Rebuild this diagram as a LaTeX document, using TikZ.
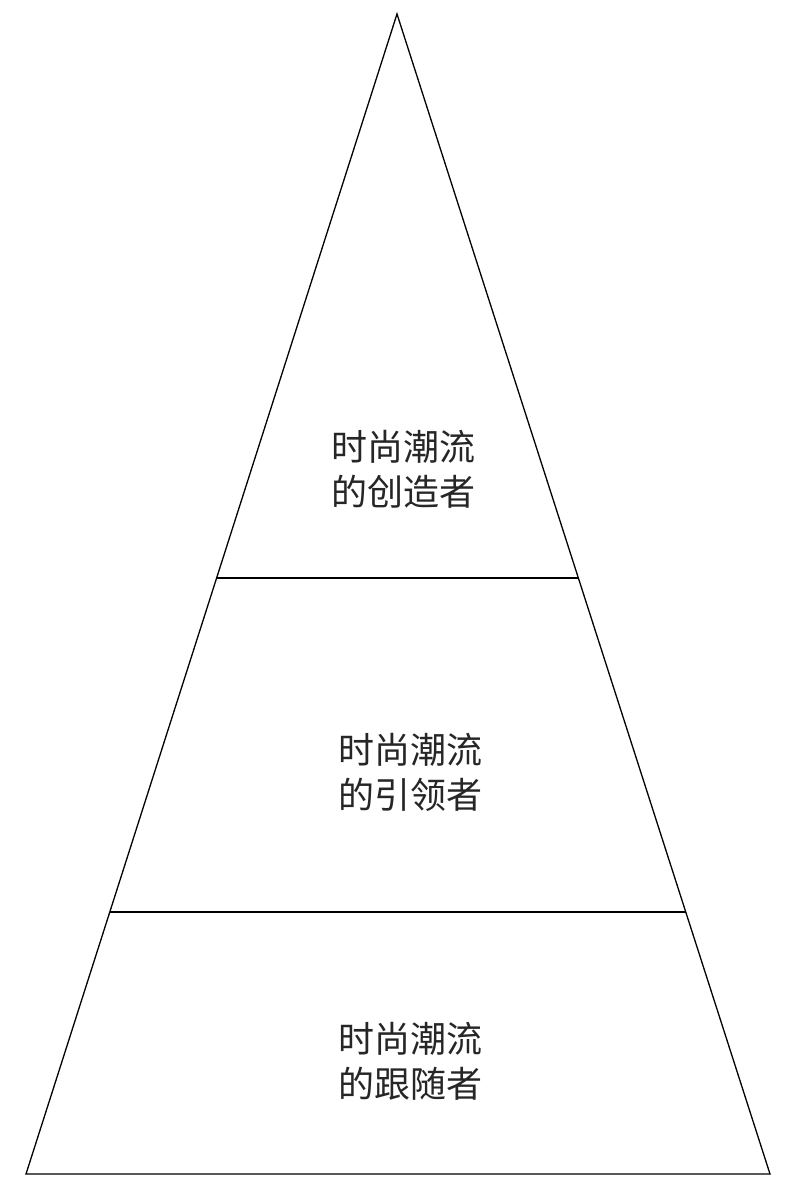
\documentclass[tikz,border=0pt]{standalone}
\usepackage{fontspec}
\newfontfamily\cjk{Noto Sans CJK SC}
\begin{document}
\begin{tikzpicture}[x=1pt,y=-1pt,
  edge/.style={draw=black,line width=1.3pt},
  lbl/.style={font=\cjk\fontsize{36}{45}\selectfont,align=center,text=black!85}]
\useasboundingbox[fill=white] (0,0) rectangle (800,1193);
\coordinate (top) at (397,14);
\coordinate (bl) at (26,1174);
\coordinate (br) at (770,1174);
\coordinate (l1) at (217,578);
\coordinate (r1) at (578,578);
\coordinate (l2) at (110,912);
\coordinate (r2) at (686,912);
\draw[edge,line join=miter] (top) -- (bl) -- (br) -- cycle;
\draw[edge] (l1) -- (r1);
\draw[edge] (l2) -- (r2);
\node[lbl] (t1) at (403,469) {时尚潮流\\的创造者};
\node[lbl] (t2) at (410,772) {时尚潮流\\的引领者};
\node[lbl] (t3) at (410,1061) {时尚潮流\\的跟随者};
\end{tikzpicture}
\end{document}
